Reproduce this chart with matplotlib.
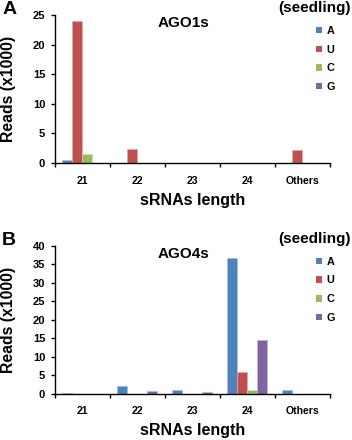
import matplotlib.pyplot as plt
from matplotlib.patches import Patch
import numpy as np

plt.rcParams['font.family'] = ['Liberation Sans', 'DejaVu Sans']
plt.rcParams['font.weight'] = 'bold'

categories = ['21', '22', '23', '24', 'Others']
nucleotides = ['A', 'U', 'C', 'G']
colors = ['#4F81BD', '#C0504D', '#9BBB59', '#8064A2']
edge_colors = ['#A7C0DE', '#E0A8A6', '#CDDDAC', '#BFB1D0']

# reads (x1000) per 5' nucleotide
ago1_A = [0.45, 0, 0, 0, 0]
ago1_U = [23.9, 2.4, 0, 0, 2.25]
ago1_C = [1.5, 0, 0, 0, 0]
ago1_G = [0, 0, 0, 0, 0]

ago4_A = [0.15, 2.05, 1.15, 36.7, 1.0]
ago4_U = [0, 0, 0, 5.9, 0]
ago4_C = [0, 0, 0, 0.9, 0]
ago4_G = [0, 0.7, 0.5, 14.6, 0]


def draw_panel(fig, rect, series, ymax, ystep, title, letter):
    ax = fig.add_axes(rect)
    x = np.arange(len(categories))
    w = 0.18
    for i, vals in enumerate(series):
        ax.bar(x - 0.5 + 0.13 + w * (i + 0.5), vals, width=w, color=colors[i],
               edgecolor=edge_colors[i], linewidth=0.6)
    ax.set_xlim(-0.5, len(categories) - 0.5)
    ax.set_ylim(0, ymax)
    ax.set_yticks(np.arange(0, ymax + 1, ystep))
    ax.set_xticks(x)
    ax.set_xticklabels(categories)
    ax.set_xticks(np.arange(-0.5, len(categories)), minor=True)
    ax.tick_params(axis='x', which='major', length=0, labelsize=7.6, pad=9)
    ax.tick_params(axis='x', which='minor', length=3, width=1)
    ax.tick_params(axis='y', length=3, width=1, labelsize=8, pad=4)
    for s in ['top', 'right']:
        ax.spines[s].set_visible(False)
    for s in ['left', 'bottom']:
        ax.spines[s].set_linewidth(1)
    ax.set_xlabel('sRNAs length', fontsize=11.5, fontweight='bold')
    ax.set_ylabel('Reads (x1000)', fontsize=11.3, fontweight='bold')
    ax.xaxis.set_label_coords(0.5, -0.2)
    ax.yaxis.set_label_coords(-0.14, 0.5)
    ax.text(0.466, 0.945, title, transform=ax.transAxes, ha='center', va='center',
            fontsize=11, fontweight='bold')
    handles = [Patch(facecolor=c, edgecolor='none') for c in colors]
    ax.legend(handles, nucleotides, loc='upper left', bbox_to_anchor=(0.95, 0.925),
              frameon=False, handlelength=0.55, handleheight=0.55, handletextpad=0.4,
              labelspacing=0.8, fontsize=7.8, borderpad=0, borderaxespad=0)
    fig.text(0.006, rect[1] + rect[3] + 0.012, letter, fontsize=14, fontweight='bold',
             ha='left', va='center')
    fig.text(0.997, rect[1] + rect[3] + 0.015, '(seedling)', fontsize=11, fontweight='bold',
             ha='right', va='center')
    return ax


fig = plt.figure(figsize=(3.52, 4.4), dpi=100)
draw_panel(fig, [0.156, 0.6295, 0.782, 0.3365], [ago1_A, ago1_U, ago1_C, ago1_G],
           25, 5, 'AGO1s', 'A')
draw_panel(fig, [0.156, 0.105, 0.782, 0.3366], [ago4_A, ago4_U, ago4_C, ago4_G],
           40, 5, 'AGO4s', 'B')
fig.savefig('out.png', dpi=100)
